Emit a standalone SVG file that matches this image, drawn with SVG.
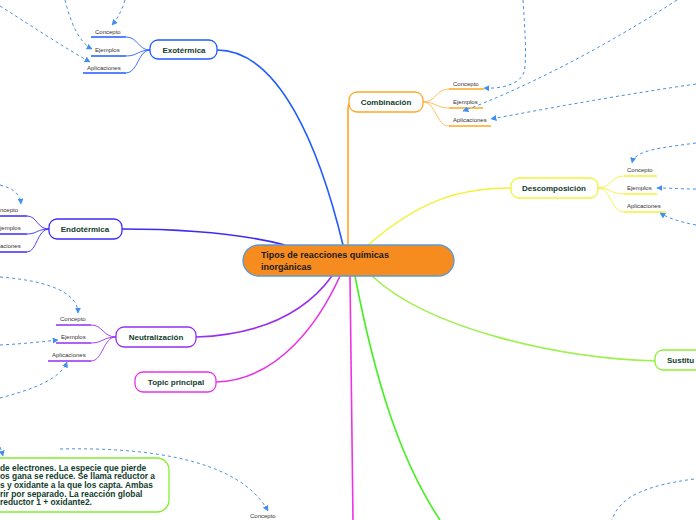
<svg xmlns="http://www.w3.org/2000/svg" width="696" height="520" viewBox="0 0 696 520">
<defs>
<marker id="ah" viewBox="0 0 10 10" refX="9" refY="5" markerWidth="6" markerHeight="6" orient="auto" markerUnits="userSpaceOnUse">
<path d="M0,0 L10,5 L0,10 z" fill="#3F8EF0"/>
</marker>
<style>
.node{fill:#fff;stroke-width:1.3}
.lbl{font-family:"Liberation Sans",Arial,sans-serif;font-weight:bold;font-size:8px;fill:#123d2c;text-anchor:middle}
.sub{font-family:"Liberation Sans",Arial,sans-serif;font-size:6px;fill:#333}
.dash{fill:none;stroke:#4A90E2;stroke-width:1;stroke-dasharray:3,3}
.c{fill:none;stroke-width:1.6}
.u{fill:none;stroke-width:1.5}
.s{fill:none;stroke-width:0.9}
</style>
</defs>

<g id="connectors">
<!-- main branches -->
<path class="c" d="M217,50 C280,50 320,150 343,245" stroke="#1F5BFF"/>
<path class="c" d="M348,245 L348,108 Q348,102 354,102" stroke="#FFA726"/>
<path class="c" d="M368,245 C420,200 460,188 511,188" stroke="#F2F23A"/>
<path class="c" d="M122,229 C200,229 250,236 285,245" stroke="#3D2BF5"/>
<path class="c" d="M196,337 C250,335 300,320 332,276" stroke="#9630F0"/>
<path class="c" d="M216,382 C280,380 320,320 340,276" stroke="#E633E6"/>
<path class="c" d="M350,276 C352,380 353,460 353,520" stroke="#F032E6"/>
<path class="c" d="M355,276 C375,380 400,460 440,520" stroke="#44F020"/>
<path class="c" d="M372,276 C430,330 560,358 655,361" stroke="#A0F050"/>
<!-- subtopic connectors -->
<path class="s" d="M150,50 C138,50 138,37 126,37" stroke="#2962FF"/>
<path class="s" d="M150,50 C138,50 138,56 126,56" stroke="#2962FF"/>
<path class="s" d="M150,50 C138,50 138,73 126,73" stroke="#2962FF"/>
<path class="s" d="M423,102 C436,102 436,89 449,89" stroke="#FFB84D"/>
<path class="s" d="M423,102 C436,102 436,108 449,108" stroke="#FFB84D"/>
<path class="s" d="M423,102 C436,102 436,126 449,126" stroke="#FFB84D"/>
<path class="s" d="M598,188 C611,188 611,176 624,176" stroke="#F2F23A"/>
<path class="s" d="M598,188 C611,188 611,194 624,194" stroke="#F2F23A"/>
<path class="s" d="M598,188 C611,188 611,212 624,212" stroke="#F2F23A"/>
<path class="s" d="M49,229 C37,229 37,216 27,216" stroke="#3D2BF5"/>
<path class="s" d="M49,229 C37,229 37,234 27,234" stroke="#3D2BF5"/>
<path class="s" d="M49,229 C37,229 37,252 27,252" stroke="#3D2BF5"/>
<path class="s" d="M116,337 C103,337 103,325 91,325" stroke="#9630F0"/>
<path class="s" d="M116,337 C103,337 103,343 91,343" stroke="#9630F0"/>
<path class="s" d="M116,337 C103,337 103,361 91,361" stroke="#9630F0"/>
<!-- underlines -->
<path class="u" d="M91,37 H126 M91,56 H126 M83,73 H126" stroke="#1F5BFF"/>
<path class="u" d="M449,89 H484 M449,108 H483 M449,126 H491" stroke="#FFA726"/>
<path class="u" d="M624,176 H657 M624,194 H657 M624,212 H666" stroke="#F2F23A"/>
<path class="u" d="M0,216 H27 M0,234 H27 M0,252 H27" stroke="#3D2BF5"/>
<path class="u" d="M56,325 H91 M56,343 H91 M48,361 H91" stroke="#9630F0"/>
<!-- dashed relations -->
<path class="dash" d="M125,0 C122,10 118,18 112,25" marker-end="url(#ah)"/>
<path class="dash" d="M65,0 C70,20 78,42 92,49" marker-end="url(#ah)"/>
<path class="dash" d="M0,6 C30,25 60,45 90,62" marker-end="url(#ah)"/>
<path class="dash" d="M523,0 C525,30 527,60 524,72 C520,85 500,89 484,88" marker-end="url(#ah)"/>
<path class="dash" d="M677,0 C600,50 520,90 463,111" marker-end="url(#ah)"/>
<path class="dash" d="M696,84 C620,95 550,108 491,119" marker-end="url(#ah)"/>
<path class="dash" d="M696,143 C660,148 635,150 632,163" marker-end="url(#ah)"/>
<path class="dash" d="M696,189 C680,189 670,188 657,188" marker-end="url(#ah)"/>
<path class="dash" d="M696,225 C680,222 668,218 660,213" marker-end="url(#ah)"/>
<path class="dash" d="M0,185 C12,188 20,193 21,204" marker-end="url(#ah)"/>
<path class="dash" d="M0,277 C40,280 78,290 78,313" marker-end="url(#ah)"/>
<path class="dash" d="M0,345 C20,344 40,342 58,340" marker-end="url(#ah)"/>
<path class="dash" d="M0,398 C30,390 60,380 67,362" marker-end="url(#ah)"/>
<path class="dash" d="M0,447 C1,450 2,452 3,456" marker-end="url(#ah)"/>
<path class="dash" d="M60,449 C150,447 240,460 268,511" marker-end="url(#ah)"/>
<path class="dash" d="M694,479 C650,485 620,495 612,520"/>
</g>

<g id="central">
<rect x="243" y="245" width="211" height="31" rx="15.5" fill="#F68B1F" stroke="#5B9BD5" stroke-width="1.3"/>
<text x="261" y="258" font-family="Liberation Sans,Arial,sans-serif" font-weight="bold" font-size="9" fill="#1a1a1a">Tipos de reacciones químicas</text>
<text x="261" y="270" font-family="Liberation Sans,Arial,sans-serif" font-weight="bold" font-size="9" fill="#1a1a1a">inorgánicas</text>
</g>

<g id="exotermica">
<rect class="node" x="150" y="40" width="67" height="19" rx="8" stroke="#1F5BFF"/>
<text class="lbl" x="184" y="53">Exotérmica</text>
<text class="sub" x="95" y="34">Concepto</text>
<text class="sub" x="95" y="52">Ejemplos</text>
<text class="sub" x="87" y="70">Aplicaciones</text>
</g>

<g id="combinacion">
<rect class="node" x="349" y="92" width="74" height="20" rx="8" stroke="#FFA726"/>
<text class="lbl" x="386" y="105">Combinación</text>
<text class="sub" x="453" y="86">Concepto</text>
<text class="sub" x="453" y="104">Ejemplos</text>
<text class="sub" x="453" y="122">Aplicaciones</text>
</g>

<g id="descomposicion">
<rect class="node" x="511" y="178" width="87" height="20" rx="8" stroke="#F2F23A"/>
<text class="lbl" x="554" y="191">Descomposición</text>
<text class="sub" x="627" y="172">Concepto</text>
<text class="sub" x="627" y="190">Ejemplos</text>
<text class="sub" x="627" y="208">Aplicaciones</text>
</g>

<g id="endotermica">
<rect class="node" x="49" y="219" width="73" height="20" rx="8" stroke="#3D2BF5"/>
<text class="lbl" x="85" y="232">Endotérmica</text>
<text class="sub" x="0" y="212">ncepto</text>
<text class="sub" x="0" y="230">jemplos</text>
<text class="sub" x="0" y="248">aciones</text>
</g>

<g id="neutralizacion">
<rect class="node" x="116" y="327" width="80" height="20" rx="8" stroke="#9630F0"/>
<text class="lbl" x="156" y="340">Neutralización</text>
<text class="sub" x="60" y="321">Concepto</text>
<text class="sub" x="61" y="339">Ejemplos</text>
<text class="sub" x="52" y="357">Aplicaciones</text>
</g>

<g id="topic-principal">
<rect class="node" x="135" y="372" width="81" height="20" rx="8" stroke="#E633E6"/>
<text class="lbl" x="176" y="385">Topic principal</text>
</g>

<g id="sustitucion">
<rect class="node" x="655" y="350" width="60" height="20" rx="8" stroke="#8CF030"/>
<text class="lbl" x="667" y="363" style="text-anchor:start">Sustitu</text>
</g>

<g id="redox">
<rect class="node" x="-40" y="458" width="209" height="54" rx="12" stroke="#80F030"/>
<g font-family="Liberation Sans,Arial,sans-serif" font-weight="bold" font-size="8.4" fill="#123d2c">
<text x="0" y="470.5">de electrones. La especie que pierde</text>
<text x="0" y="479.2">os gana se reduce. Se llama reductor a</text>
<text x="0" y="487.9">s y oxidante a la que los capta. Ambas</text>
<text x="0" y="496.6">rir por separado. La reacción global</text>
<text x="0" y="505.3">reductor 1 + oxidante2.</text>
</g>
</g>

<g id="concepto-bottom">
<text class="sub" x="250" y="518">Concepto</text>
</g>
</svg>
